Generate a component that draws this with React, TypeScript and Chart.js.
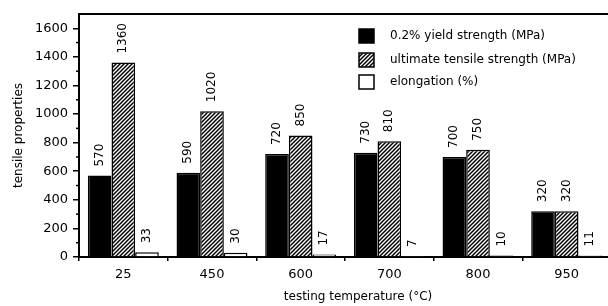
import React, { useEffect, useRef } from 'react';
import { Chart, registerables } from 'chart.js';

Chart.register(...registerables);

const categories = ['25', '450', '600', '700', '800', '950'];
const yieldStrength = [570, 590, 720, 730, 700, 320];
const ultimateStrength = [1360, 1020, 850, 810, 750, 320];
const elongation = [33, 30, 17, 7, 10, 11];
const yTicks = [0, 200, 400, 600, 800, 1000, 1200, 1400, 1600];
const yMinorTicks = [100, 300, 500, 700, 900, 1100, 1300, 1500];
const seriesLabels = ['0.2% yield strength (MPa)', 'ultimate tensile strength (MPa)', 'elongation (%)'];
const xTitle = 'testing temperature (°C)';
const yTitle = 'tensile properties';

const FONT = '"DejaVu Sans", sans-serif';

function makeHatch(): CanvasPattern | string {
  const c = document.createElement('canvas');
  const s = 4;
  c.width = s;
  c.height = s;
  const g = c.getContext('2d');
  if (!g) return '#888';
  g.fillStyle = '#fff';
  g.fillRect(0, 0, s, s);
  g.strokeStyle = '#000';
  g.lineWidth = 1.5;
  g.beginPath();
  g.moveTo(0, s);
  g.lineTo(s, 0);
  g.moveTo(-1, 1);
  g.lineTo(1, -1);
  g.moveTo(s - 1, s + 1);
  g.lineTo(s + 1, s - 1);
  g.stroke();
  return g.createPattern(c, 'repeat') || '#888';
}

export default function App() {
  const ref = useRef<HTMLCanvasElement | null>(null);

  useEffect(() => {
    if (!ref.current) return;
    const hatch = makeHatch();
    const fills: any[] = ['#000', hatch, '#fff'];

    const decorations = {
      id: 'decorations',
      afterDatasetsDraw(chart: any) {
        const ctx = chart.ctx as CanvasRenderingContext2D;
        const area = chart.chartArea;
        const ys = chart.scales.y;
        ctx.save();
        // top border
        ctx.strokeStyle = '#000';
        ctx.lineWidth = 2;
        ctx.beginPath();
        ctx.moveTo(area.left - 1, area.top);
        ctx.lineTo(area.right, area.top);
        ctx.stroke();
        // minor ticks
        ctx.lineWidth = 1.5;
        yMinorTicks.forEach((v) => {
          const y = ys.getPixelForValue(v);
          ctx.beginPath();
          ctx.moveTo(area.left - 3, y);
          ctx.lineTo(area.left, y);
          ctx.stroke();
        });
        // value labels
        ctx.fillStyle = '#000';
        ctx.font = '12px ' + FONT;
        chart.data.datasets.forEach((ds: any, di: number) => {
          const meta = chart.getDatasetMeta(di);
          meta.data.forEach((el: any, i: number) => {
            ctx.save();
            ctx.translate(el.x, el.y - 9);
            ctx.rotate(-Math.PI / 2);
            ctx.textAlign = 'left';
            ctx.textBaseline = 'middle';
            ctx.fillText(String(ds.data[i]), 0, 0);
            ctx.restore();
          });
        });
        // legend
        const lx = area.left + 280;
        const rowY = [36, 60, 82];
        ctx.font = '12px ' + FONT;
        ctx.textAlign = 'left';
        ctx.textBaseline = 'middle';
        seriesLabels.forEach((label, i) => {
          const cy = rowY[i];
          ctx.fillStyle = fills[i];
          ctx.fillRect(lx, cy - 7, 15, 14);
          ctx.lineWidth = 1.5;
          ctx.strokeStyle = '#000';
          ctx.strokeRect(lx, cy - 7, 15, 14);
          ctx.fillStyle = '#000';
          ctx.fillText(label, lx + 31, cy);
        });
        // x title
        ctx.textAlign = 'center';
        ctx.fillText(xTitle, 358, 297);
        ctx.restore();
      },
    };

    const chart = new Chart(ref.current, {
      type: 'bar',
      data: {
        labels: categories,
        datasets: [
          { label: seriesLabels[0], data: yieldStrength, backgroundColor: fills[0], borderColor: '#000', borderWidth: 1.5 },
          { label: seriesLabels[1], data: ultimateStrength, backgroundColor: fills[1], borderColor: '#000', borderWidth: 1.5 },
          { label: seriesLabels[2], data: elongation, backgroundColor: fills[2], borderColor: '#000', borderWidth: 1.5 },
        ],
      },
      options: {
        animation: false,
        responsive: false,
        maintainAspectRatio: false,
        devicePixelRatio: 1,
        layout: { padding: { top: 14, right: 29, left: 0, bottom: 0 } },
        datasets: { bar: { barPercentage: 1, categoryPercentage: 0.8 } },
        plugins: { legend: { display: false }, tooltip: { enabled: false } },
        scales: {
          x: {
            grid: { offset: true, drawOnChartArea: false, tickLength: 4, color: '#000', lineWidth: 1.5 },
            border: { color: '#000', width: 2 },
            ticks: { color: '#000', font: { family: FONT, size: 13 }, padding: 6, maxRotation: 0 },
            afterFit: (s: any) => { s.height = 49; },
          },
          y: {
            min: 0,
            max: 1700,
            afterBuildTicks: (s: any) => { s.ticks = yTicks.map((v) => ({ value: v })); },
            grid: { drawOnChartArea: false, tickLength: 6, color: '#000', lineWidth: 1.5 },
            border: { color: '#000', width: 2 },
            ticks: { color: '#000', font: { family: FONT, size: 13 }, padding: 5, callback: (v: any) => String(v) },
            title: { display: true, text: yTitle, color: '#000', font: { family: FONT, size: 12 }, padding: { top: 12, bottom: 0 } },
            afterFit: (s: any) => { s.width = 79; },
          },
        },
      },
      plugins: [decorations],
    } as any);
    return () => chart.destroy();
  }, []);

  return (
    <div style={{ position: 'fixed', left: 0, top: 0, width: 608, height: 306, overflow: 'hidden', background: '#fff' }}>
      <canvas ref={ref} width={640} height={306} style={{ display: 'block', width: 640, height: 306 }} />
    </div>
  );
}
